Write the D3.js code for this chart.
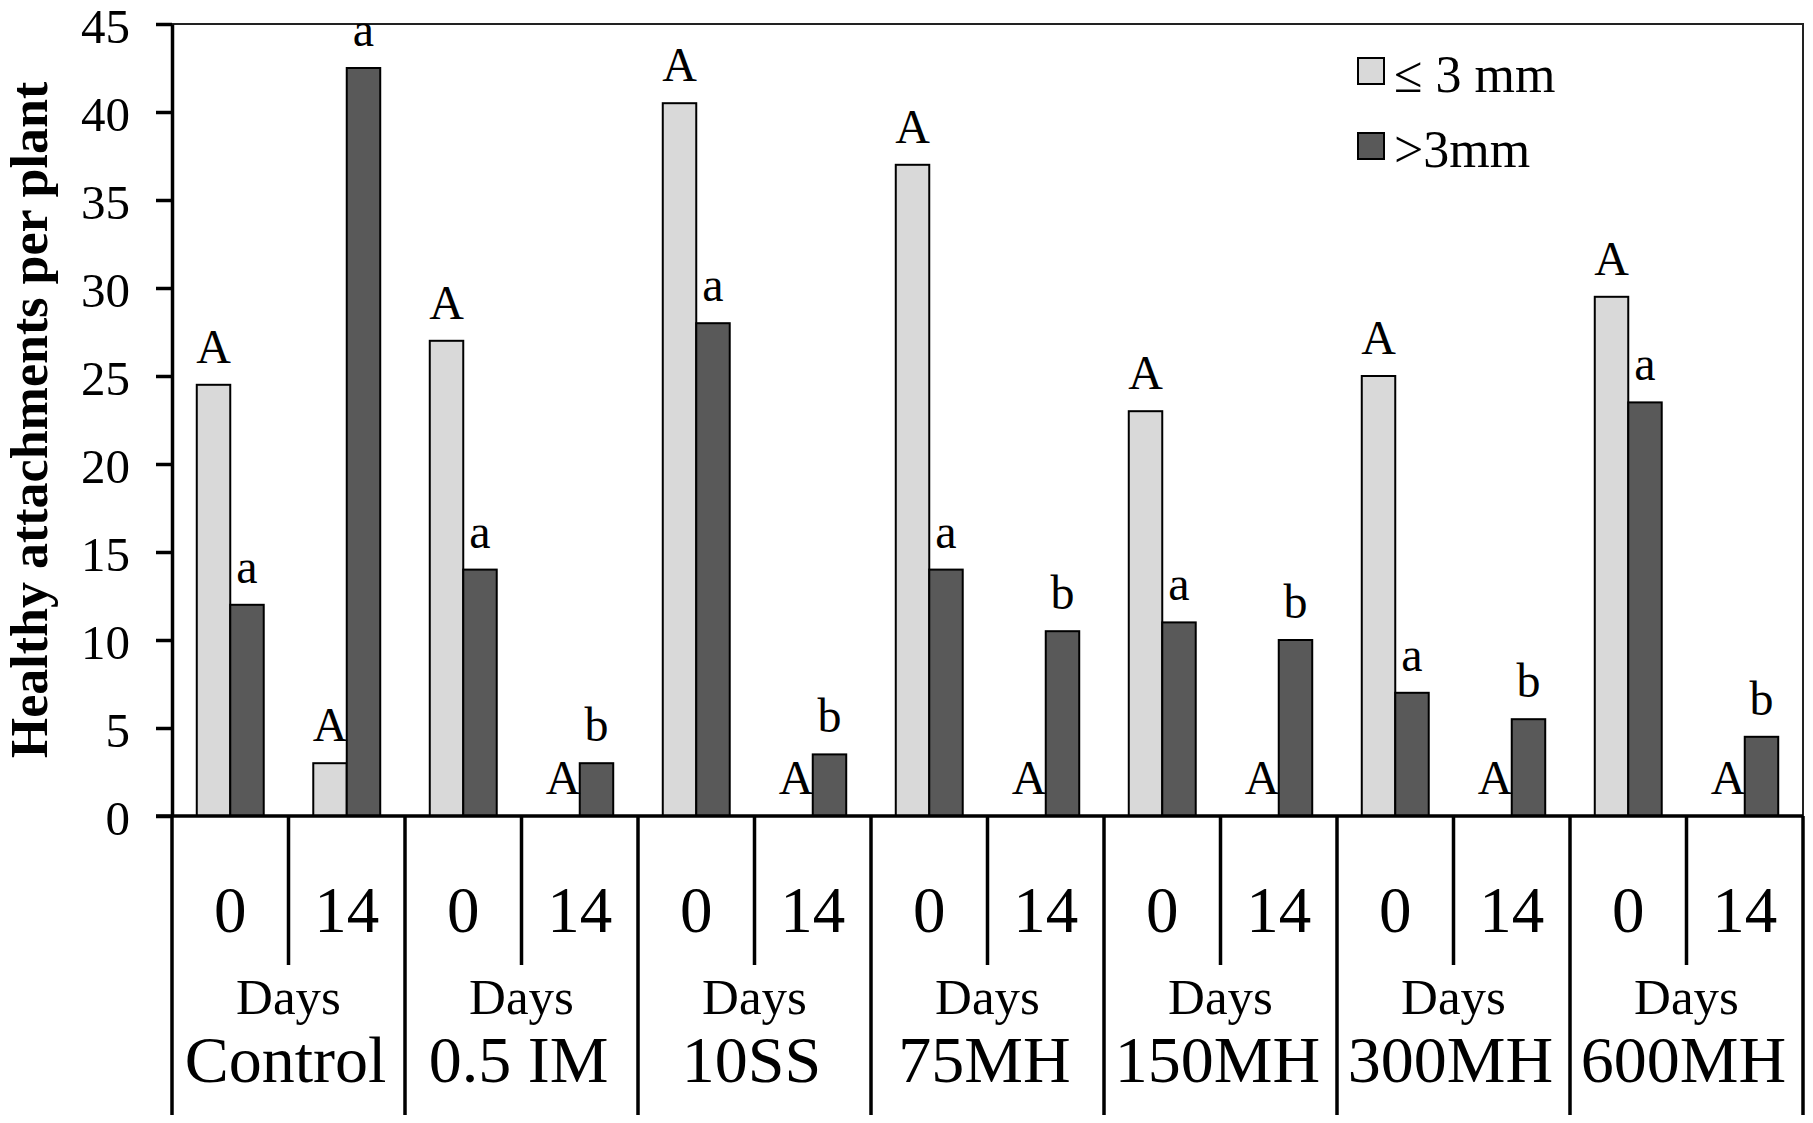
<!DOCTYPE html>
<html>
<head>
<meta charset="utf-8">
<script src="https://cdn.jsdelivr.net/npm/d3@7"></script>
<style>
  html, body { margin: 0; padding: 0; background: #fff; }
  svg { display: block; font-family: "Liberation Serif", "Times New Roman", serif; }
</style>
</head>
<body>
<svg width="1813" height="1123"></svg>
<script>
// treatments and sampling days
const groups = ["Control", "0.5 IM", "10SS", "75MH", "150MH", "300MH", "600MH"]
const days = ["0", "14"]
const series = ["small", "large"]
const seriesLabels = ["\u2264 3 mm", ">3mm"]

// healthy attachments per plant
const smallDay0 = [24.5, 27, 40.5, 37, 23, 25, 29.5]
const smallDay14 = [3, 0, 0, 0, 0, 0, 0]
const largeDay0 = [12, 14, 28, 14, 11, 7, 23.5]
const largeDay14 = [42.5, 3, 3.5, 10.5, 10, 5.5, 4.5]

// letters of significance
const smallLetters0 = ["A", "A", "A", "A", "A", "A", "A"]
const smallLetters14 = ["A", "A", "A", "A", "A", "A", "A"]
const largeLetters0 = ["a", "a", "a", "a", "a", "a", "a"]
const largeLetters14 = ["a", "b", "b", "b", "b", "b", "b"]

const yTicks = [0, 5, 10, 15, 20, 25, 30, 35, 40, 45]

const colors = { small: "#d9d9d9", large: "#595959" }

// flat rows for drawing
let rows = []
groups.forEach((g, i) => {
  rows.push({ group: g, day: "0", key: "small", value: smallDay0[i], letter: smallLetters0[i] })
  rows.push({ group: g, day: "0", key: "large", value: largeDay0[i], letter: largeLetters0[i] })
  rows.push({ group: g, day: "14", key: "small", value: smallDay14[i], letter: smallLetters14[i] })
  rows.push({ group: g, day: "14", key: "large", value: largeDay14[i], letter: largeLetters14[i] })
})

const svg = d3.select("svg")
const mLeft = 172, mRight = 1803, mTop = 24, mBottom = 816

const x0 = d3.scaleBand().domain(groups).range([mLeft, mRight])
const xDay = d3.scaleBand().domain(days).range([0, x0.bandwidth()])
const x1 = d3.scaleBand().domain(series).range([0, xDay.bandwidth()])
  .paddingInner(0).paddingOuter(0.74)
const y = d3.scaleLinear().domain([0, 45]).range([mBottom, mTop])

// frame: top and right sides are thin
svg.append("path")
  .attr("d", `M${mLeft},${mTop}H${mRight}V${mBottom}`)
  .attr("fill", "none")
  .attr("stroke", "#222")
  .attr("stroke-width", 2)

// bars
svg.append("g").selectAll("rect")
  .data(rows.filter(d => d.value > 0))
  .join("rect")
  .attr("x", d => x0(d.group) + xDay(d.day) + x1(d.key))
  .attr("y", d => y(d.value))
  .attr("width", x1.bandwidth())
  .attr("height", d => y(0) - y(d.value))
  .attr("fill", d => colors[d.key])
  .attr("stroke", "#000")
  .attr("stroke-width", 2)

// letters above bars
svg.append("g").selectAll("text")
  .data(rows)
  .join("text")
  .attr("x", d => x0(d.group) + xDay(d.day) + x1(d.key) + x1.bandwidth() / 2)
  .attr("y", d => y(d.value) - 22)
  .attr("text-anchor", "middle")
  .attr("font-size", 48)
  .text(d => d.letter)

// y axis
let yAxis = svg.append("g")
  .attr("transform", `translate(${mLeft},0)`)
  .call(d3.axisLeft(y).tickValues(yTicks).tickSize(16).tickSizeOuter(0).tickPadding(26))
yAxis.select(".domain").attr("stroke-width", 3.5)
yAxis.selectAll(".tick line").attr("stroke-width", 3.5)
yAxis.selectAll(".tick text")
  .attr("font-size", 49)
  .attr("dy", "0.37em")
  .attr("font-family", "Liberation Serif, serif")
  .attr("fill", "#000")

// baseline (zero line runs full width)
svg.append("line")
  .attr("x1", mLeft - 16).attr("x2", mRight)
  .attr("y1", y(0)).attr("y2", y(0))
  .attr("stroke", "#000").attr("stroke-width", 3.5)

// table-like category axis below the plot
let cat = svg.append("g")
cat.selectAll("line.outer")
  .data(groups.concat(["end"]))
  .join("line")
  .attr("class", "outer")
  .attr("x1", d => d === "end" ? mRight : x0(d))
  .attr("x2", d => d === "end" ? mRight : x0(d))
  .attr("y1", mBottom).attr("y2", 1115)
  .attr("stroke", "#000").attr("stroke-width", 3.5)

cat.selectAll("line.inner")
  .data(groups)
  .join("line")
  .attr("class", "inner")
  .attr("x1", d => x0(d) + xDay("14"))
  .attr("x2", d => x0(d) + xDay("14"))
  .attr("y1", mBottom).attr("y2", 965)
  .attr("stroke", "#000").attr("stroke-width", 3.5)

cat.selectAll("text.day")
  .data(d3.cross(groups, days))
  .join("text")
  .attr("class", "day")
  .attr("x", d => x0(d[0]) + xDay(d[1]) + xDay.bandwidth() / 2)
  .attr("y", 932)
  .attr("text-anchor", "middle")
  .attr("font-size", 65)
  .text(d => d[1])

cat.selectAll("text.days")
  .data(groups)
  .join("text")
  .attr("class", "days")
  .attr("x", d => x0(d) + x0.bandwidth() / 2)
  .attr("y", 1014)
  .attr("text-anchor", "middle")
  .attr("font-size", 51)
  .text("Days")

cat.selectAll("text.group")
  .data(groups)
  .join("text")
  .attr("class", "group")
  .attr("x", d => x0(d) + x0.bandwidth() / 2 - 3)
  .attr("y", 1082)
  .attr("text-anchor", "middle")
  .attr("font-size", 66)
  .text(d => d)

// y title
svg.append("text")
  .attr("transform", `translate(47,${(mTop + mBottom) / 2}) rotate(-90)`)
  .attr("text-anchor", "middle")
  .attr("font-size", 52)
  .attr("font-weight", "bold")
  .text("Healthy attachments per plant")

// legend
let legend = svg.append("g").selectAll("g")
  .data(series)
  .join("g")
  .attr("transform", (d, i) => `translate(1358,${58 + i * 75})`)
legend.append("rect")
  .attr("width", 26).attr("height", 26)
  .attr("fill", d => colors[d])
  .attr("stroke", "#000").attr("stroke-width", 2)
legend.append("text")
  .attr("x", 36).attr("y", 34)
  .attr("font-size", 52)
  .text((d, i) => seriesLabels[i])
</script>
</body>
</html>
